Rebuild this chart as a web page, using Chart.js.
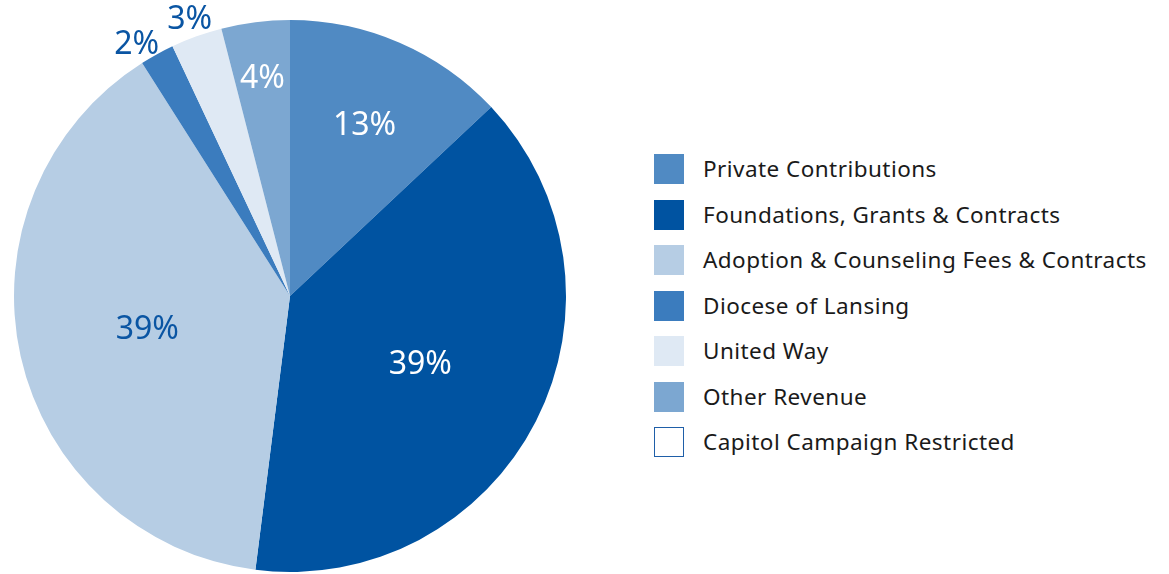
<!DOCTYPE html>
<html>
<script src="https://cdn.jsdelivr.net/npm/chart.js@4.4.1/dist/chart.umd.min.js"></script>
<style>
    body { margin: 0; background: #fff; }
    #wrap { position: relative; width: 1169px; height: 574px; overflow: hidden; }
    #pieBox { position: absolute; left: 0; top: 0; width: 580px; height: 574px; }
    #legend { position: absolute; left: 654px; top: 154px; font-family: "Noto Sans", sans-serif; font-size: 22.5px; letter-spacing: 0.45px; color: #1a1a1a; }
    .row { height: 45.5px; display: flex; align-items: flex-start; }
    .box { width: 30px; height: 30px; box-sizing: border-box; margin-right: 19px; flex: none; }
    .txt { line-height: 30px; white-space: nowrap; }
</style>
<body>

<div id="wrap">
    <div id="pieBox"><canvas id="revenueChart" width="580" height="574"></canvas></div>
    <div id="legend"></div>
</div>

<script>

    // revenue sources and their share in percent
    let sources = ["Private Contributions", "Foundations, Grants & Contracts", "Adoption & Counseling Fees & Contracts",
                   "Diocese of Lansing", "United Way", "Other Revenue", "Capitol Campaign Restricted"];
    let shares = [13, 39, 39, 2, 3, 4, 0];

    let sliceColors = ["#508ac3", "#0053a1", "#b6cde4", "#3b7cbe", "#dfe9f4", "#7ca7d1", "#ffffff"];
    let labelColors = ["#ffffff", "#ffffff", "#0a55a3", "#0a55a3", "#0a55a3", "#ffffff", "#0a55a3"];

    // draws the percentage labels, small slices get them outside the pie
    const pctLabels = {
        id: "pctLabels",
        afterDatasetsDraw(chart) {
            let ctx = chart.ctx;
            let arcs = chart.getDatasetMeta(0).data;
            ctx.save();
            ctx.font = "32px 'Noto Sans', sans-serif";
            ctx.textAlign = "center";
            ctx.textBaseline = "middle";

            let placed = [];
            for (let i = 0; i < arcs.length; i++) {
                let v = shares[i];
                if (!v) continue;
                let a = arcs[i];
                let mid = (a.startAngle + a.endAngle) / 2;
                let R = a.outerRadius;
                let r;
                if (v <= 3) r = R + 20;
                else if (v < 10) r = R * 0.8;
                else if (v < 20) r = R * 0.68;
                else r = R * 0.53;
                placed.push({ i: i, a: a, angle: mid, r: r, w: ctx.measureText(v + "%").width, outside: v <= 3 });
            }

            // push outside labels apart (counterclockwise) when they collide
            for (let k = placed.length - 2; k >= 0; k--) {
                let p = placed[k], q = placed[k + 1];
                if (!p.outside || !q.outside) continue;
                let qx = q.a.x + Math.cos(q.angle) * q.r, qy = q.a.y + Math.sin(q.angle) * q.r;
                for (let n = 0; n < 200; n++) {
                    let px = p.a.x + Math.cos(p.angle) * p.r, py = p.a.y + Math.sin(p.angle) * p.r;
                    let dx = Math.abs(px - qx), dy = Math.abs(py - qy);
                    if (dx >= (p.w + q.w) / 2 + 8 || dy >= 30) break;
                    p.angle -= 0.002;
                }
            }

            for (let p of placed) {
                ctx.fillStyle = labelColors[p.i];
                ctx.fillText(shares[p.i] + "%", p.a.x + Math.cos(p.angle) * p.r, p.a.y + Math.sin(p.angle) * p.r + 2);
            }
            ctx.restore();
        }
    };

    new Chart("revenueChart", {
        type: "pie",
        data: {
            labels: sources,
            datasets: [{
                data: shares,
                backgroundColor: sliceColors,
                borderWidth: 0
            }]
        },
        options: {
            responsive: false,
            animation: false,
            layout: { padding: { left: 14, right: 14, top: 20, bottom: 2 } },
            plugins: {
                legend: { display: false },
                tooltip: { enabled: false }
            }
        },
        plugins: [pctLabels]
    });

    // legend on the right
    let legend = document.getElementById("legend");
    for (let i = 0; i < sources.length; i++) {
        let row = document.createElement("div");
        row.className = "row";
        let box = document.createElement("div");
        box.className = "box";
        box.style.background = sliceColors[i];
        if (sliceColors[i] == "#ffffff") box.style.border = "1.5px solid #1f5fa8";
        let txt = document.createElement("div");
        txt.className = "txt";
        txt.textContent = sources[i];
        row.appendChild(box);
        row.appendChild(txt);
        legend.appendChild(row);
    }

</script>
</body>
</html>
